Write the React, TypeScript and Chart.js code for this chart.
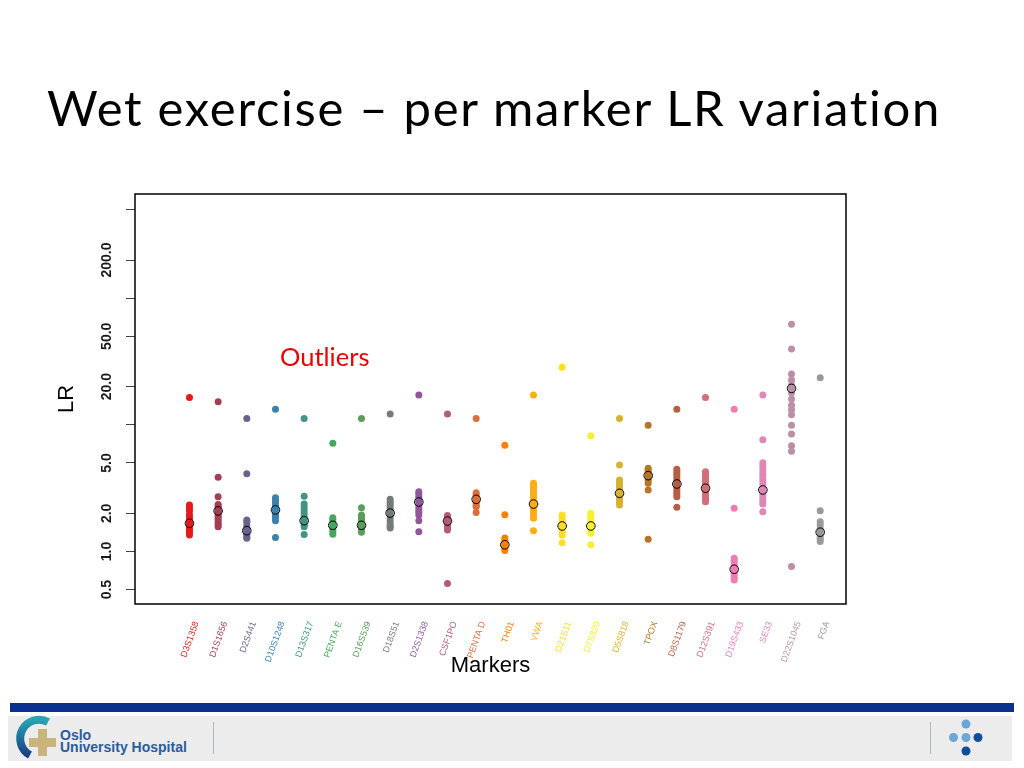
import React, { useEffect, useRef } from "react";
import { Chart, registerables } from "chart.js";

Chart.register(...registerables);

// ---------- data ----------
const markers = [
  "D3S1358", "D1S1656", "D2S441", "D10S1248", "D13S317", "PENTA E", "D16S539", "D18S51",
  "D2S1338", "CSF1PO", "PENTA D", "TH01", "VWA", "D21S11", "D7S820", "D5S818", "TPOX",
  "D8S1179", "D12S391", "D19S433", "SE33", "D22S1045", "FGA",
];

const markerColors = [
  "#E41A1C", "#A53E55", "#66638D", "#3982AE", "#419486", "#49A65E", "#5B9D5A", "#767A7B",
  "#91579B", "#B45B77", "#DA6D3B", "#FF7F00", "#FFAE13", "#FFDC25", "#F7F032", "#D7B22E",
  "#B6752A", "#B55E44", "#D26E7A", "#F07DB1", "#DD88B5", "#BB90A7", "#999999",
];

// LR values per marker (same order as markers)
const lrValues: number[][] = [
  [16.4, 2.33, 2.2, 2.1, 1.95, 1.85, 1.75, 1.7, 1.62, 1.55, 1.48, 1.42, 1.35],
  [15.2, 3.85, 2.71, 2.35, 2.28, 2.2, 2.12, 2.05, 1.98, 1.9, 1.82, 1.75, 1.68, 1.62, 1.57],
  [11.2, 4.11, 1.77, 1.7, 1.6, 1.52, 1.46, 1.4, 1.35, 1.3, 1.27],
  [13.3, 2.66, 2.55, 2.42, 2.3, 2.2, 2.1, 2.0, 1.92, 1.85, 1.75, 1.29],
  [11.2, 2.73, 2.37, 2.25, 2.12, 2.0, 1.9, 1.82, 1.75, 1.68, 1.62, 1.57, 1.36],
  [7.15, 1.85, 1.78, 1.7, 1.63, 1.57, 1.5, 1.44, 1.37],
  [11.2, 2.21, 1.94, 1.86, 1.78, 1.7, 1.62, 1.55, 1.48, 1.42],
  [12.2, 2.58, 2.45, 2.35, 2.25, 2.15, 2.05, 1.95, 1.85, 1.75, 1.65, 1.58, 1.53],
  [17.2, 2.96, 2.85, 2.72, 2.6, 2.48, 2.36, 2.25, 2.14, 2.04, 1.94, 1.75, 1.43],
  [12.2, 1.92, 1.85, 1.78, 1.72, 1.66, 1.6, 1.54, 1.48, 0.56],
  [11.2, 2.91, 2.8, 2.7, 2.6, 2.5, 2.4, 2.3, 2.26, 2.03],
  [6.9, 1.95, 1.28, 1.22, 1.17, 1.13, 1.09, 1.05, 1.02],
  [17.2, 3.46, 3.3, 3.15, 3.0, 2.85, 2.7, 2.58, 2.46, 2.35, 2.25, 2.15, 2.05, 1.95, 1.83, 1.46],
  [28.5, 1.94, 1.85, 1.76, 1.68, 1.6, 1.52, 1.45, 1.4, 1.35, 1.17],
  [8.2, 2.0, 1.9, 1.8, 1.72, 1.64, 1.56, 1.49, 1.43, 1.39, 1.13],
  [11.2, 4.82, 3.67, 3.5, 3.35, 3.2, 3.05, 2.9, 2.78, 2.66, 2.55, 2.45, 2.33],
  [9.9, 4.54, 4.4, 4.25, 4.1, 3.95, 3.8, 3.65, 3.46, 3.06, 1.25],
  [13.3, 4.46, 4.25, 4.05, 3.85, 3.65, 3.45, 3.28, 3.12, 2.97, 2.83, 2.71, 2.23],
  [16.4, 4.26, 4.1, 3.95, 3.8, 3.65, 3.5, 3.35, 3.2, 3.05, 2.9, 2.78, 2.66, 2.55, 2.47],
  [13.3, 2.19, 0.885, 0.85, 0.815, 0.78, 0.75, 0.72, 0.69, 0.665, 0.64, 0.615, 0.596],
  [17.2, 7.64, 5.02, 4.75, 4.5, 4.25, 4.0, 3.8, 3.6, 3.4, 3.2, 3.05, 2.9, 2.75, 2.6, 2.48, 2.37, 2.06],
  [62.2, 39.7, 25.2, 22.6, 20.6, 19.4, 17.9, 16.0, 14.3, 13.1, 12.0, 9.9, 8.47, 6.84, 6.18, 0.76],
  [23.5, 2.1, 1.72, 1.62, 1.52, 1.44, 1.37, 1.3, 1.25, 1.2],
];

const medianLR = [
  1.67, 2.09, 1.46, 2.13, 1.75, 1.61, 1.61, 2.01, 2.46, 1.74, 2.58, 1.13, 2.37, 1.59, 1.59,
  2.88, 3.97, 3.41, 3.16, 0.724, 3.06, 19.4, 1.42,
];

const yTickValues = [0.5, 1, 2, 5, 10, 20, 50, 100, 200, 500];
const yTickLabels = ["0.5", "1.0", "2.0", "5.0", "", "20.0", "50.0", "", "200.0", ""];

const titleText = "Wet exercise \u2013 per marker LR variation";
const annotationText = "Outliers";

// ---------- plugin: box + rotated y labels ----------
const framePlugin = {
  id: "frame",
  afterDraw(chart: any) {
    const { ctx, chartArea: a, scales } = chart;
    ctx.save();
    ctx.strokeStyle = "#000";
    ctx.lineWidth = 1.5;
    ctx.strokeRect(a.left, a.top, a.right - a.left, a.bottom - a.top);
    const ys = scales.y;
    ctx.fillStyle = "#1a1a1a";
    ctx.font = 'bold 14px "Liberation Sans", Arial, sans-serif';
    ctx.textAlign = "center";
    ctx.textBaseline = "middle";
    yTickValues.forEach((v, i) => {
      const lbl = yTickLabels[i];
      if (!lbl) return;
      const py = ys.getPixelForValue(v);
      ctx.save();
      ctx.translate(a.left - 28, py);
      ctx.rotate(-Math.PI / 2);
      ctx.fillText(lbl, 0, 0);
      ctx.restore();
    });
    ctx.restore();
  },
};

function LRChart() {
  const ref = useRef<HTMLCanvasElement | null>(null);
  useEffect(() => {
    if (!ref.current) return;
    const pointSets = markers.map((m, i) => ({
      label: m,
      data: lrValues[i].map((v) => ({ x: i, y: v })),
      backgroundColor: markerColors[i],
      borderColor: markerColors[i],
      pointRadius: 3.5,
      pointBorderWidth: 0,
      order: 1,
    }));
    const medianSet = {
      label: "median",
      data: medianLR.map((v, i) => ({ x: i, y: v })),
      backgroundColor: "rgba(0,0,0,0)",
      borderColor: "#000",
      pointRadius: 4.3,
      pointBorderWidth: 1,
      order: 0,
    };
    const chart = new Chart(ref.current, {
      type: "scatter",
      data: { datasets: [medianSet, ...pointSets] as any },
      options: {
        animation: false,
        responsive: true,
        maintainAspectRatio: false,
        layout: { padding: { left: 50, top: 194, right: 178, bottom: 86 } },
        plugins: { legend: { display: false }, tooltip: { enabled: false }, title: { display: false } },
        scales: {
          x: {
            type: "linear",
            min: -1.9,
            max: 22.9,
            afterBuildTicks: (s: any) => {
              s.ticks = markers.map((_, i) => ({ value: i }));
            },
            afterFit: (s: any) => {
              s.height = 78;
            },
            grid: { display: false, drawTicks: false },
            border: { display: false },
            ticks: {
              autoSkip: false,
              minRotation: 70,
              maxRotation: 70,
              padding: 16,
              labelOffset: 7,
              font: { size: 9, family: '"Liberation Sans", Arial, sans-serif' },
              color: (c: any) => markerColors[c.index] || "#000",
              callback: (v: any) => markers[v] ?? "",
            },
            title: {
              display: true,
              text: "Markers",
              color: "#000",
              font: { size: 22, family: '"Liberation Sans", Arial, sans-serif' },
              padding: { top: 4, bottom: 3 },
            },
          },
          y: {
            type: "logarithmic",
            min: 0.385,
            max: 664,
            afterBuildTicks: (s: any) => {
              s.ticks = yTickValues.map((v) => ({ value: v }));
            },
            afterFit: (s: any) => {
              s.width = 85;
            },
            grid: { drawOnChartArea: false, drawTicks: true, tickLength: 9, color: "#444", lineWidth: 1 },
            border: { display: false },
            ticks: { display: false },
            title: {
              display: true,
              text: "LR",
              color: "#000",
              font: { size: 22, family: '"Liberation Sans", Arial, sans-serif' },
              padding: { top: 4, bottom: 4 },
            },
          },
        },
      } as any,
      plugins: [framePlugin],
    });
    return () => chart.destroy();
  }, []);
  return <canvas ref={ref} />;
}

function Footer() {
  return (
    <>
      <div style={{ position: "absolute", left: 10, top: 703, width: 1004, height: 9, background: "#0B318F" }} />
      <div style={{ position: "absolute", left: 8, top: 716, width: 1004, height: 45, background: "#ECECEC" }} />
      <svg style={{ position: "absolute", left: 9, top: 713 }} width={50} height={46}>
        <defs>
          <linearGradient id="cg" x1="0" y1="0" x2="0" y2="1">
            <stop offset="0" stopColor="#27A3B4" />
            <stop offset="1" stopColor="#1B3F86" />
          </linearGradient>
        </defs>
        <path d="M 39 9 A 16.5 16.5 0 1 0 21 42" fill="none" stroke="url(#cg)" strokeWidth={8} />
        <rect x={29} y={16} width={9} height={27} fill="#C9B47C" />
        <rect x={20} y={25} width={27} height={9} fill="#C9B47C" />
      </svg>
      <div
        style={{
          position: "absolute",
          left: 60,
          top: 729,
          fontFamily: '"Liberation Sans Narrow", "Liberation Sans", Arial, sans-serif',
          fontWeight: "bold",
          fontSize: 14,
          lineHeight: "12px",
          color: "#2B5C9D",
          whiteSpace: "nowrap",
        }}
      >
        <div>Oslo</div>
        <div>University Hospital</div>
      </div>
      <div style={{ position: "absolute", left: 213, top: 722, width: 1, height: 32, background: "#AEB6C6" }} />
      <div style={{ position: "absolute", left: 930, top: 722, width: 1, height: 32, background: "#AEB6C6" }} />
      <svg style={{ position: "absolute", left: 945, top: 716 }} width={45} height={44}>
        <circle cx={21} cy={8} r={4.5} fill="#6AA6DA" />
        <circle cx={8.5} cy={21.5} r={4.5} fill="#6AA6DA" />
        <circle cx={21} cy={21.5} r={4.5} fill="#6AA6DA" />
        <circle cx={33} cy={21.5} r={4.5} fill="#0F4F98" />
        <circle cx={21} cy={35} r={4.5} fill="#0F4F98" />
      </svg>
    </>
  );
}

export default function App() {
  return (
    <div
      style={{
        position: "absolute",
        left: 0,
        top: 0,
        width: 1024,
        height: 768,
        background: "#fff",
        overflow: "hidden",
      }}
    >
      <div
        style={{
          position: "absolute",
          left: 47,
          top: 83,
          fontFamily: 'Lato, "Open Sans", sans-serif',
          fontSize: 49,
          lineHeight: "49px",
          letterSpacing: "1.7px",
          fontVariantLigatures: "none",
          color: "#000",
          whiteSpace: "nowrap",
        }}
      >
        {titleText}
      </div>
      <div style={{ position: "absolute", left: 0, top: 0, width: 1024, height: 768 }}>
        <LRChart />
      </div>
      <div
        style={{
          position: "absolute",
          left: 280,
          top: 344,
          fontFamily: 'Lato, "Open Sans", sans-serif',
          fontSize: 25.5,
          lineHeight: "25px",
          color: "#E80000",
          whiteSpace: "nowrap",
        }}
      >
        {annotationText}
      </div>
      <Footer />
    </div>
  );
}
